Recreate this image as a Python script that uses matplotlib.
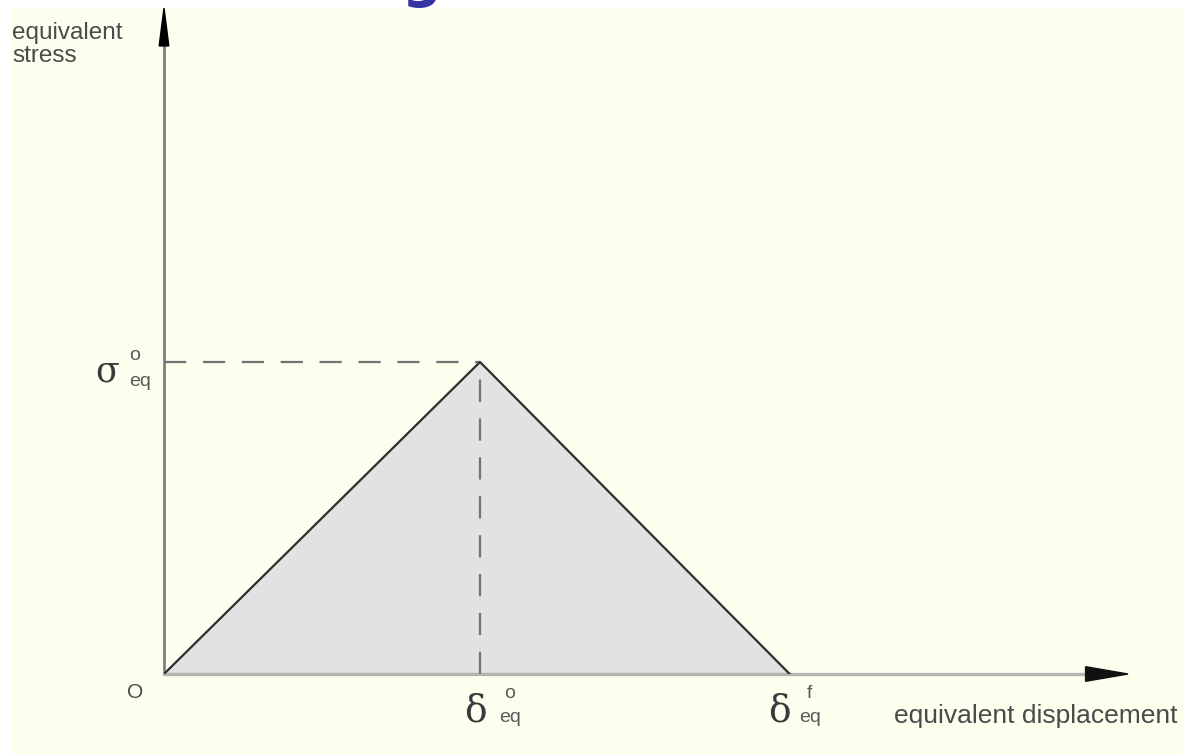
import matplotlib
matplotlib.use('Agg')
import matplotlib.pyplot as plt
from matplotlib.patches import Rectangle, Polygon

# bilinear traction-separation law
displacement = [0.0, 1.0, 1.98]   # 0, delta_eq^o, delta_eq^f
stress = [0.0, 1.0, 0.0]          # 0, sigma_eq^o, 0
delta_0 = displacement[1]
delta_f = displacement[2]
sigma_0 = stress[1]

x_label = 'equivalent displacement'
y_label = 'equivalent\nstress'

W, H = 1183, 754
fig = plt.figure(figsize=(W / 100, H / 100), dpi=100, facecolor='white')

# pale yellow page behind the drawing
fig.patches.append(Rectangle((12 / W, 0), 1 - 12 / W, 1 - 8 / H,
                             transform=fig.transFigure, facecolor='#fefeee',
                             edgecolor='none', zorder=-10))

# bit of heading text cut off at the top edge
fig.text(421 / W, 1 + 4 / H, 'g', color='#3434a4', fontsize=40,
         fontweight='bold', ha='center', va='baseline')

ax = fig.add_axes([164 / W, 80 / H, 964 / W, 666 / H])
ax.set_zorder(5)
ax.set_xlim(0, 964 / 316)
ax.set_ylim(0, 666 / 312)
ax.axis('off')

# triangle
ax.fill(displacement, stress, color='#e2e2e2', zorder=1)
ax.plot(displacement, stress, color='#2e2e2e', lw=1.6, zorder=4)

# dashed guides to the peak
ax.plot([0, delta_0], [sigma_0, sigma_0], color='#727272', lw=1.6,
        ls=(0, (10, 7.5)), zorder=3)
ax.plot([delta_0, delta_0], [0, sigma_0], color='#727272', lw=1.6,
        ls=(0, (10, 7.5)), zorder=3)

# axes with arrowheads
ax.plot([0, 0], [0, 0.95], transform=ax.transAxes, color='#808080', lw=2.0,
        zorder=2, clip_on=False)
ax.plot([0, 0.96], [0, 0], transform=ax.transAxes, color='#b4b4b4', lw=2.4,
        zorder=2, clip_on=False)
ax.add_patch(Polygon([(0, 1.0), (-0.005, 0.943), (0.005, 0.943)],
                     closed=True, transform=ax.transAxes, color='black',
                     clip_on=False, zorder=5))
ax.add_patch(Polygon([(1.0, 0.0), (0.956, 0.011), (0.956, -0.011)],
                     closed=True, transform=ax.transAxes, color='#111111',
                     clip_on=False, zorder=5))

txt = dict(color='#4a4a4a', fontfamily='Liberation Sans', clip_on=False)
sym = dict(color='#3a3a3a', fontfamily='DejaVu Serif', clip_on=False)
small = dict(color='#5a5a5a', fontfamily='Liberation Sans', fontsize=14,
             clip_on=False)

ax.text(-152 / 316, 652 / 312, y_label, fontsize=17.5, ha='left', va='top',
        linespacing=1.05, **txt)
fig.text(1178 / W, 1 - 716 / H, x_label, fontsize=19, ha='right',
         va='center', **txt)

# origin
ax.text(-29 / 316, -18 / 312, 'O', fontsize=15, ha='center', va='center', **txt)

# sigma_eq^o on the stress axis
ax.text(-57 / 316, sigma_0 - 10 / 312, 'σ', fontsize=25, ha='center',
        va='center', **sym)
ax.text(-29 / 316, sigma_0 + 7 / 312, 'o', ha='center', va='center', **small)
ax.text(-24 / 316, sigma_0 - 19 / 312, 'eq', ha='center', va='center', **small)

# delta_eq^o and delta_eq^f under the displacement axis
for d, dx_sym, dx_idx, sup in [(delta_0, -5, 30, 'o'), (delta_f, -10, 20, 'f')]:
    ax.text(d + dx_sym / 316, -38 / 312, 'δ', fontsize=27, ha='center',
            va='center', **sym)
    ax.text(d + dx_idx / 316, -20 / 312, sup, ha='center', va='center', **small)
    ax.text(d + dx_idx / 316, -43 / 312, 'eq', ha='center', va='center', **small)

fig.savefig('out.png', dpi=100, facecolor=fig.get_facecolor())
